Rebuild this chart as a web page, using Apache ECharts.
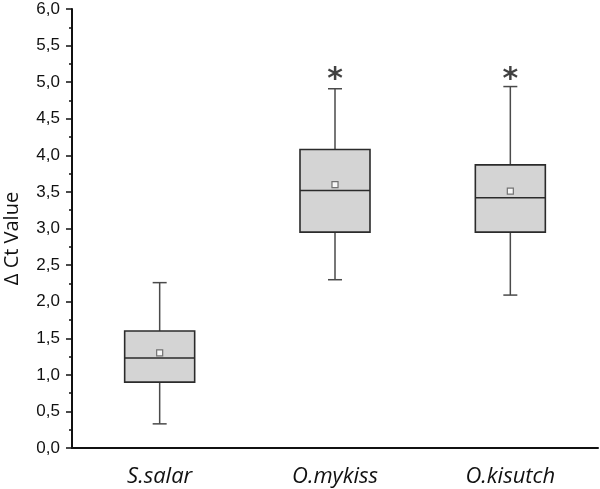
<!DOCTYPE html>
<html>
<head>
<meta charset="utf-8">
<script src="https://cdn.jsdelivr.net/npm/echarts@6/dist/echarts.min.js"></script>
<style>
  html, body { margin: 0; padding: 0; background: #fff; }
  #chart { width: 600px; height: 489px; }
</style>
</head>
<body>
<div id="chart"></div>
<script>
// values
var categories = ['S.salar', 'O.mykiss', 'O.kisutch']
var whiskerLow = [0.33, 2.30, 2.09]
var boxLow = [0.90, 2.95, 2.95]
var medians = [1.23, 3.52, 3.42]
var boxHigh = [1.60, 4.08, 3.87]
var whiskerHigh = [2.26, 4.91, 4.94]
var means = [1.30, 3.60, 3.51]
var stars = ['-', 5.13, 5.13]

var boxData = categories.map(function (c, i) {
  return [i, whiskerLow[i], boxLow[i], medians[i], boxHigh[i], whiskerHigh[i]]
})

function renderBox(params, api) {
  var x = api.value(0)
  var pLow = api.coord([x, api.value(1)])
  var pQ1 = api.coord([x, api.value(2)])
  var pMed = api.coord([x, api.value(3)])
  var pQ3 = api.coord([x, api.value(4)])
  var pHigh = api.coord([x, api.value(5)])
  var half = 35
  var cap = 7
  var cx = pMed[0]
  var whisk = { stroke: '#4a4a4a', lineWidth: 1.5 }
  return {
    type: 'group',
    children: [
      { type: 'line', shape: { x1: cx, y1: pHigh[1], x2: cx, y2: pQ3[1] }, style: whisk },
      { type: 'line', shape: { x1: cx, y1: pQ1[1], x2: cx, y2: pLow[1] }, style: whisk },
      { type: 'line', shape: { x1: cx - cap, y1: pHigh[1], x2: cx + cap, y2: pHigh[1] }, style: whisk },
      { type: 'line', shape: { x1: cx - cap, y1: pLow[1], x2: cx + cap, y2: pLow[1] }, style: whisk },
      {
        type: 'rect',
        shape: { x: cx - half, y: pQ3[1], width: half * 2, height: pQ1[1] - pQ3[1] },
        style: { fill: '#d4d4d4', stroke: '#2b2b2b', lineWidth: 1.6 }
      },
      { type: 'line', shape: { x1: cx - half, y1: pMed[1], x2: cx + half, y2: pMed[1] }, style: { stroke: '#2b2b2b', lineWidth: 1.6 } }
    ]
  }
}

var chart = echarts.init(document.getElementById('chart'))
chart.setOption({
  animation: false,
  grid: { left: 72, right: 2, top: 9, bottom: 41, outerBoundsMode: 'none', containLabel: false },
  xAxis: {
    type: 'category',
    data: categories,
    boundaryGap: true,
    axisLine: { lineStyle: { color: '#111', width: 2 } },
    axisTick: { alignWithLabel: true, length: 6, lineStyle: { color: '#111', width: 1.5 } },
    axisLabel: { color: '#111', fontSize: 22, fontStyle: 'italic', fontFamily: 'Open Sans', margin: 18 }
  },
  yAxis: {
    type: 'value',
    min: 0,
    max: 6,
    interval: 0.5,
    name: 'Δ Ct Value',
    nameLocation: 'middle',
    nameGap: 50,
    nameTextStyle: { color: '#111', fontSize: 20, fontFamily: 'Open Sans', padding: [0, 20, 0, 0] },
    axisLine: { show: true, lineStyle: { color: '#111', width: 2 } },
    axisTick: { show: true, length: 6, lineStyle: { color: '#111', width: 1.5 } },
    minorTick: { show: true, splitNumber: 2, length: 3, lineStyle: { color: '#111', width: 1.5 } },
    splitLine: { show: false },
    axisLabel: {
      color: '#111', fontSize: 17, fontFamily: 'Liberation Sans', margin: 12,
      formatter: function (v) { return v.toFixed(1).replace('.', ',') }
    }
  },
  series: [
    {
      type: 'custom',
      renderItem: renderBox,
      encode: { x: 0, y: [1, 2, 3, 4, 5] },
      data: boxData,
      z: 2
    },
    {
      type: 'scatter',
      data: means,
      symbol: 'rect',
      symbolSize: 6,
      itemStyle: { color: '#ffffff', borderColor: '#555', borderWidth: 1.2 },
      z: 5
    },
    {
      type: 'scatter',
      data: stars,
      symbolSize: 0,
      label: {
        show: true,
        position: 'inside',
        formatter: '*',
        fontSize: 30,
        fontWeight: 'bold',
        color: '#111',
        fontFamily: 'DejaVu Sans',
        offset: [0, 8]
      },
      z: 5
    }
  ]
})
</script>
</body>
</html>
